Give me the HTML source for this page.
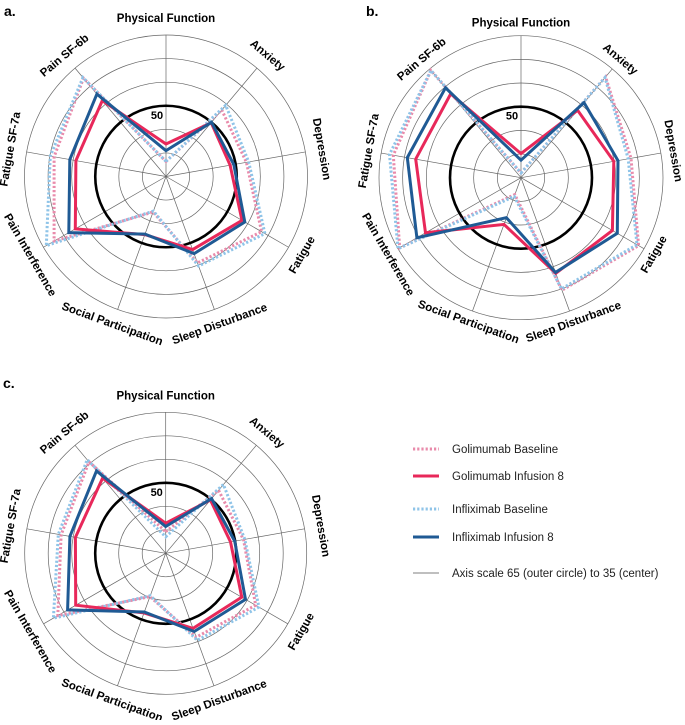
<!DOCTYPE html>
<html><head><meta charset="utf-8">
<style>
html,body{margin:0;padding:0;background:#fff;}
svg text{font-family:"Liberation Sans",Arial,sans-serif;}
</style></head>
<body>
<svg id="chart" width="685" height="720" viewBox="0 0 685 720" xmlns="http://www.w3.org/2000/svg">
  <text x="4" y="16" font-size="14" font-weight="bold">a.</text>
  <text x="366" y="16" font-size="14" font-weight="bold">b.</text>
  <text x="3" y="388" font-size="14" font-weight="bold">c.</text>
  <g id="legend">
    <g>
      <line x1="413" y1="449" x2="439" y2="449" stroke="#e98bab" stroke-width="3" stroke-dasharray="2.2,2"/>
      <text x="452" y="453" font-size="11.5" fill="#222">Golimumab Baseline</text>
    </g>
    <g>
      <line x1="413" y1="476" x2="439" y2="476" stroke="#e8285a" stroke-width="3"/>
      <text x="452" y="480" font-size="11.5" fill="#222">Golimumab Infusion 8</text>
    </g>
    <g>
      <line x1="413" y1="509" x2="439" y2="509" stroke="#8fc4e8" stroke-width="3" stroke-dasharray="2.2,2"/>
      <text x="452" y="513" font-size="11.5" fill="#222">Infliximab Baseline</text>
    </g>
    <g>
      <line x1="413" y1="537" x2="439" y2="537" stroke="#1f5a94" stroke-width="3"/>
      <text x="452" y="541" font-size="11.5" fill="#222">Infliximab Infusion 8</text>
    </g>
    <g>
      <line x1="413" y1="573" x2="439" y2="573" stroke="#555" stroke-width="0.8"/>
      <text x="452" y="577" font-size="11.5" fill="#222">Axis scale 65 (outer circle) to 35 (center)</text>
    </g>
  </g>
</svg>
<script>
const categories = ["Physical Function","Anxiety","Depression","Fatigue","Sleep Disturbance","Social Participation","Pain Interference","Fatigue SF-7a","Pain SF-6b"];
const ringValues = [40,45,50,55,60,65];
const scaleMin = 35;
const scaleMax = 65;
// Panel a
const aGolBase = [38.2,53.4,52.3,58.4,54.5,43.0,62.4,59.1,62.2];
const aGolInf  = [41.9,49.9,48.8,53.6,51.5,48.1,57.2,54.4,56.0];
const aInfBase = [38.2,54.7,52.8,59.2,55.2,42.8,64.3,59.9,62.4];
const aInfInf  = [40.5,50.0,49.6,54.3,52.4,48.0,58.8,55.7,57.8];
// Panel b
const bGolBase = [36.0,62.8,58.6,63.7,60.3,38.8,64.6,62.4,64.6];
const bGolInf  = [40.1,53.6,54.9,57.3,56.5,45.5,58.3,57.6,58.1];
const bInfBase = [36.0,62.6,58.0,63.3,60.0,39.2,65.0,63.2,64.6];
const bInfInf  = [38.7,55.7,55.8,58.5,56.3,44.0,60.4,59.4,59.8];
// Panel c
const cGolBase = [39.6,52.5,51.8,57.1,54.0,44.8,61.5,57.6,60.4];
const cGolInf  = [41.4,49.8,49.0,53.7,52.0,48.5,57.1,54.5,55.9];
const cInfBase = [38.5,54.1,52.1,57.9,54.7,44.6,62.6,58.2,61.0];
const cInfInf  = [40.7,50.2,49.9,54.6,52.7,48.3,59.1,55.7,57.9];

const NS = "http://www.w3.org/2000/svg";
const svg = document.getElementById('chart');
function mk(tag, attrs, parent){ const e=document.createElementNS(NS,tag); for(const k in attrs) e.setAttribute(k,attrs[k]); parent.appendChild(e); return e; }

function drawPanel(id, cx, cy, R, labelOff, series){
  const g = mk('g',{},svg);
  
  
  const n = categories.length;
  const ang = i => i*2*Math.PI/n;
  const rad = v => (v-scaleMin)/(scaleMax-scaleMin)*R;
  const pt = (i,v) => [cx + rad(v)*Math.sin(ang(i)), cy - rad(v)*Math.cos(ang(i))];
  ringValues.forEach(v=>{
    const c = mk('circle',{cx:cx,cy:cy,r:rad(v),fill:'none',stroke:'#666','stroke-width':0.7},g);
    
    
  });
  categories.forEach((cat,i)=>{
    const p = pt(i,scaleMax);
    const l = mk('line',{x1:cx,y1:cy,x2:p[0],y2:p[1],stroke:'#666','stroke-width':0.7},g);
    
    
  });
  const ref = mk('circle',{cx:cx,cy:cy,r:rad(50),fill:'none',stroke:'#000','stroke-width':2.6},g);
  
  
  const lab50 = mk('text',{x:cx-9,y:cy-rad(50)+13,'font-size':11,'font-weight':'bold','text-anchor':'middle'},g);
  lab50.textContent = '50';
  
  
  series.forEach(s=>{
    const pts = s.vals.map((v,i)=>pt(i,v).map(x=>x.toFixed(1)).join(',')).join(' ');
    const attrs = {points:pts,fill:'none',stroke:s.color,'stroke-width':3,'stroke-linejoin':'miter'};
    if(s.dash) attrs['stroke-dasharray']='2.2,2';
    const p = mk('polygon',attrs,g);
    
    
  });
  categories.forEach((cat,i)=>{
    const deg = i*360/n;
    const lr = R+labelOff;
    const x = cx + lr*Math.sin(ang(i)), y = cy - lr*Math.cos(ang(i));
    let rot = deg;
    if(deg>90 && deg<270) rot = deg-180;
    else if(deg>=270) rot = deg-360;
    const t = mk('text',{x:x,y:y,'font-size':11.5,'font-weight':'bold','text-anchor':'middle','dominant-baseline':'central',transform:'rotate('+rot.toFixed(1)+' '+x.toFixed(1)+' '+y.toFixed(1)+')'},g);
    t.textContent = cat;
    
    
  });
}
const colors = {gb:'#e98bab', gi:'#e8285a', ib:'#8fc4e8', ii:'#1f5a94'};
drawPanel('a',166,176.5,141.5,16,[
  {name:'golimumab-baseline-a',vals:aGolBase,color:colors.gb,dash:true},
  {name:'infliximab-baseline-a',vals:aInfBase,color:colors.ib,dash:true},
  {name:'golimumab-infusion-8-a',vals:aGolInf,color:colors.gi},
  {name:'infliximab-infusion-8-a',vals:aInfInf,color:colors.ii}]);
drawPanel('b',521,177.7,142,12,[
  {name:'golimumab-baseline-b',vals:bGolBase,color:colors.gb,dash:true},
  {name:'infliximab-baseline-b',vals:bInfBase,color:colors.ib,dash:true},
  {name:'golimumab-infusion-8-b',vals:bGolInf,color:colors.gi},
  {name:'infliximab-infusion-8-b',vals:bInfInf,color:colors.ii}]);
drawPanel('c',165.7,553.3,141,16,[
  {name:'golimumab-baseline-c',vals:cGolBase,color:colors.gb,dash:true},
  {name:'infliximab-baseline-c',vals:cInfBase,color:colors.ib,dash:true},
  {name:'golimumab-infusion-8-c',vals:cGolInf,color:colors.gi},
  {name:'infliximab-infusion-8-c',vals:cInfInf,color:colors.ii}]);
</script>
</body></html>
